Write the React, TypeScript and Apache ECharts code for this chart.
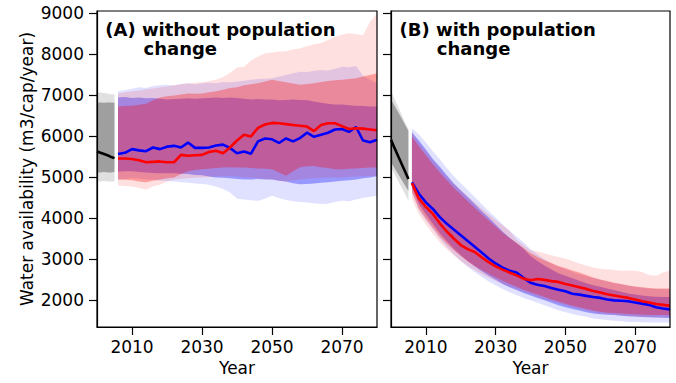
import { useEffect, useRef } from "react";
import * as echarts from "echarts";

// ---- axes ----
const yTicks = [2000, 3000, 4000, 5000, 6000, 7000, 8000, 9000];
const xTicks = [2010, 2030, 2050, 2070];

// ---- years ----
const histYears = [2000, 2001, 2002, 2003, 2004, 2005];
const futureYears = [
  2006, 2008, 2010, 2012, 2014, 2016, 2018, 2020, 2022, 2024, 2026, 2028, 2030,
  2032, 2034, 2036, 2038, 2040, 2042, 2044, 2046, 2048, 2050, 2052, 2054, 2056,
  2058, 2060, 2062, 2064, 2066, 2068, 2070, 2072, 2074, 2076, 2078, 2080,
];

// ---- (A) without population change ----
const histA = [5630, 5600, 5570, 5540, 5500, 5470];
const histInnerLoA = [5120, 5120, 5130, 5120, 5120, 5130];
const histInnerHiA = [6830, 6830, 6820, 6830, 6830, 6820];
const histOuterLoA = [4900, 4900, 4910, 4900, 4900, 4900];
const histOuterHiA = [7080, 7070, 7060, 7050, 7030, 7020];

const blueA = [
  5570, 5600, 5690, 5660, 5640, 5730, 5690, 5750, 5770, 5730, 5850, 5720, 5720,
  5730, 5780, 5800, 5720, 5590, 5630, 5580, 5880, 5950, 5930, 5840, 5950, 5880,
  5960, 6090, 5990, 6040, 6090, 6170, 6180, 6110, 6230, 5900, 5860, 5920,
];
const redA = [
  5460, 5460, 5450, 5420, 5370, 5380, 5390, 5370, 5370, 5550, 5530, 5540, 5550,
  5620, 5650, 5590, 5730, 5900, 6040, 6000, 6210, 6290, 6330, 6320, 6300, 6280,
  6260, 6240, 6130, 6280, 6320, 6320, 6250, 6180, 6200, 6190, 6170, 6150,
];
const blueOuterHiA = [
  7100, 7130, 7160, 7200, 7180, 7230, 7250, 7260, 7240, 7280, 7290, 7270, 7300,
  7310, 7300, 7330, 7320, 7340, 7360, 7380, 7400, 7410, 7420, 7460, 7500, 7540,
  7580, 7570, 7600, 7620, 7610, 7650, 7700, 7690, 7720, 7480, 7380, 7300,
];
const blueInnerHiA = [
  6950, 6960, 6940, 6950, 6930, 6940, 6920, 6900, 6910, 6920, 6930, 6920, 6930,
  6940, 6950, 6940, 6950, 6940, 6920, 6900, 6910, 6900, 6900, 6880, 6890, 6900,
  6890, 6880, 6850, 6820, 6800, 6780, 6780, 6760, 6750, 6740, 6730, 6730,
];
const blueInnerLoA = [
  5140, 5150, 5150, 5130, 5120, 5110, 5100, 5100, 5100, 5090, 5080, 5060, 5050,
  5020, 5000, 4990, 4980, 4960, 4950, 4950, 4960, 4950, 4950, 4920, 4900, 4860,
  4830, 4840, 4850, 4870, 4880, 4900, 4920, 4930, 4950, 4980, 5000, 5030,
];
const blueOuterLoA = [
  4950, 4960, 4980, 4970, 4950, 4940, 4920, 4910, 4900, 4880, 4870, 4850, 4840,
  4820, 4780, 4720, 4630, 4480, 4460, 4440, 4430, 4480, 4550, 4500, 4450, 4420,
  4400, 4390, 4370, 4350, 4360, 4400, 4430, 4420, 4460, 4500, 4530, 4550,
];
const redOuterHiA = [
  7050, 7080, 7100, 7120, 7150, 7170, 7200, 7220, 7250, 7270, 7300, 7310, 7320,
  7350, 7380, 7450, 7550, 7680, 7700, 7850, 7950, 8030, 8050, 8070, 8080, 8120,
  8150, 8200, 8250, 8280, 8350, 8430, 8480, 8520, 8500, 8470, 8800, 9000,
];
const redInnerHiA = [
  6730, 6740, 6750, 6770, 6800, 6880, 6950, 6980, 7000, 7020, 7050, 7040, 7050,
  7080, 7100, 7140, 7180, 7200, 7250, 7270, 7300, 7340, 7380, 7350, 7320, 7290,
  7260, 7280, 7300, 7330, 7350, 7370, 7380, 7400, 7420, 7460, 7500, 7540,
];
const redInnerLoA = [
  4950, 4940, 4930, 4900, 4880, 4920, 4950, 4980, 5000, 5080, 5150, 5180, 5200,
  5210, 5230, 5240, 5250, 5240, 5240, 5230, 5220, 5210, 5200, 5120, 5040, 5150,
  5250, 5270, 5280, 5250, 5230, 5200, 5200, 5210, 5220, 5230, 5240, 5240,
];
const redOuterLoA = [
  4800, 4790, 4780, 4740, 4700, 4780, 4820, 4900, 4950, 4970, 4980, 4990, 5000,
  5010, 5020, 5030, 5030, 5020, 5000, 4990, 4980, 4960, 4950, 4920, 4900, 4930,
  4950, 4970, 4980, 4990, 5000, 5000, 5000, 5010, 5020, 5030, 5030, 5050,
];

// ---- (B) with population change ----
const histB = [5920, 5720, 5530, 5340, 5150, 4960];
const histInnerLoB = [5370, 5230, 5090, 4950, 4810, 4670];
const histInnerHiB = [6900, 6750, 6600, 6450, 6290, 6130];
const histOuterLoB = [5240, 5080, 4920, 4760, 4600, 4430];
const histOuterHiB = [7100, 6920, 6730, 6540, 6350, 6170];

const blueB = [
  4880, 4600, 4390, 4230, 4030, 3870, 3730, 3590, 3450, 3310, 3170, 3020, 2900,
  2800, 2720, 2680, 2550, 2430, 2380, 2350, 2300, 2260, 2220, 2160, 2140, 2110,
  2080, 2060, 2020, 2000, 1990, 1980, 1950, 1920, 1890, 1830, 1800, 1780,
];
const redB = [
  4860, 4480, 4280, 4110, 3880, 3680, 3510, 3350, 3250, 3180, 3050, 2930, 2830,
  2750, 2680, 2610, 2530, 2490, 2520, 2500, 2470, 2450, 2400, 2360, 2320, 2280,
  2230, 2190, 2150, 2120, 2090, 2060, 2020, 1980, 1950, 1910, 1890, 1870,
];
const blueOuterHiB = [
  6200, 6050, 5850, 5640, 5440, 5230, 5030, 4860, 4690, 4520, 4350, 4180, 4020,
  3850, 3700, 3560, 3420, 3250, 3120, 3000, 2900, 2820, 2760, 2700, 2640, 2590,
  2540, 2500, 2460, 2420, 2390, 2360, 2330, 2310, 2290, 2280, 2270, 2270,
];
const blueInnerHiB = [
  6100, 5900, 5680, 5450, 5260, 5050, 4850, 4680, 4520, 4350, 4180, 4020, 3850,
  3680, 3530, 3400, 3260, 3080, 2960, 2850, 2750, 2660, 2600, 2540, 2480, 2420,
  2370, 2330, 2290, 2250, 2210, 2170, 2140, 2120, 2100, 2090, 2080, 2080,
];
const blueInnerLoB = [
  4750, 4350, 4100, 3870, 3640, 3440, 3260, 3100, 2960, 2830, 2710, 2600, 2500,
  2400, 2320, 2250, 2180, 2120, 2060, 2000, 1940, 1880, 1830, 1790, 1750, 1710,
  1680, 1660, 1650, 1640, 1625, 1615, 1605, 1595, 1585, 1580, 1575, 1570,
];
const blueOuterLoB = [
  4600, 4200, 3950, 3720, 3500, 3300, 3120, 2960, 2820, 2690, 2570, 2460, 2370,
  2280, 2200, 2130, 2060, 2000, 1940, 1880, 1820, 1760, 1710, 1670, 1630, 1600,
  1560, 1540, 1520, 1500, 1490, 1475, 1470, 1465, 1460, 1460, 1460, 1460,
];
const redOuterHiB = [
  6100, 5850, 5640, 5420, 5220, 5030, 4860, 4700, 4540, 4390, 4240, 4100, 3960,
  3830, 3700, 3480, 3350, 3230, 3190, 3150, 3100, 3060, 3020, 2960, 2900, 2850,
  2800, 2770, 2760, 2740, 2720, 2730, 2720, 2690, 2620, 2600, 2680, 2730,
];
const redInnerHiB = [
  6000, 5760, 5540, 5320, 5120, 4930, 4750, 4580, 4420, 4260, 4100, 3950, 3800,
  3650, 3520, 3400, 3280, 3150, 3060, 2980, 2910, 2840, 2790, 2730, 2680, 2620,
  2560, 2510, 2470, 2430, 2400, 2360, 2340, 2320, 2300, 2290, 2290, 2290,
];
const redInnerLoB = [
  4650, 4250, 4000, 3780, 3560, 3380, 3220, 3080, 2950, 2840, 2740, 2650, 2560,
  2480, 2400, 2330, 2260, 2200, 2140, 2080, 2020, 1970, 1920, 1870, 1830, 1790,
  1750, 1720, 1700, 1690, 1680, 1670, 1660, 1650, 1645, 1640, 1640, 1640,
];
const redOuterLoB = [
  4470, 4100, 3850, 3620, 3420, 3250, 3100, 2960, 2840, 2740, 2640, 2550, 2470,
  2400, 2330, 2270, 2210, 2150, 2090, 2030, 1980, 1930, 1880, 1830, 1790, 1750,
  1710, 1680, 1660, 1640, 1630, 1610, 1600, 1590, 1590, 1580, 1580, 1580,
];

const titleA = ["(A) without population", "change"];
const titleB = ["(B) with population", "change"];

const FONT = "DejaVu Sans";

type Band = [number[], number[], number];
type Panel = {
  hist: number[];
  histBands: Band[];
  blue: number[];
  red: number[];
  blueBands: Band[];
  redBands: Band[];
};

const panels: Panel[] = [
  {
    hist: histA,
    histBands: [
      [histOuterLoA, histOuterHiA, 0.12],
      [histInnerLoA, histInnerHiA, 0.29],
    ],
    blue: blueA,
    red: redA,
    blueBands: [
      [blueOuterLoA, blueOuterHiA, 0.12],
      [blueInnerLoA, blueInnerHiA, 0.32],
    ],
    redBands: [
      [redOuterLoA, redOuterHiA, 0.12],
      [redInnerLoA, redInnerHiA, 0.3],
    ],
  },
  {
    hist: histB,
    histBands: [
      [histOuterLoB, histOuterHiB, 0.12],
      [histInnerLoB, histInnerHiB, 0.29],
    ],
    blue: blueB,
    red: redB,
    blueBands: [
      [blueOuterLoB, blueOuterHiB, 0.12],
      [blueInnerLoB, blueInnerHiB, 0.32],
    ],
    redBands: [
      [redOuterLoB, redOuterHiB, 0.12],
      [redInnerLoB, redInnerHiB, 0.3],
    ],
  },
];

// A shaded band between two bounds, drawn as one polygon in data coordinates.
function bandSeries(
  axis: number,
  years: number[],
  lo: number[],
  hi: number[],
  color: string,
  opacity: number
) {
  return {
    type: "custom" as const,
    xAxisIndex: axis,
    yAxisIndex: axis,
    silent: true,
    data: years.map((x, i) => [x, lo[i], hi[i]]),
    encode: { x: 0, y: [1, 2] },
    renderItem: (params: any, api: any) => {
      if (params.dataIndex !== 0) return null;
      const upper = years.map((x, i) => api.coord([x, hi[i]]));
      const lower = years.map((x, i) => api.coord([x, lo[i]])).reverse();
      return {
        type: "polygon",
        shape: { points: upper.concat(lower) },
        style: { fill: color, opacity },
      };
    },
  };
}

function lineSeries(axis: number, years: number[], values: number[], color: string) {
  return {
    type: "line" as const,
    xAxisIndex: axis,
    yAxisIndex: axis,
    symbol: "none",
    silent: true,
    data: years.map((x, i) => [x, values[i]]),
    lineStyle: { color, width: 2.6 },
  };
}

function buildOption() {
  const series: any[] = [];
  panels.forEach((p, k) => {
    p.histBands.forEach(([lo, hi, a]) =>
      series.push(bandSeries(k, histYears, lo, hi, "#000000", a))
    );
    series.push(lineSeries(k, histYears, p.hist, "#000000"));
    p.blueBands.forEach(([lo, hi, a]) =>
      series.push(bandSeries(k, futureYears, lo, hi, "#0000ff", a))
    );
    p.redBands.forEach(([lo, hi, a]) =>
      series.push(bandSeries(k, futureYears, lo, hi, "#ff0000", a))
    );
    series.push(lineSeries(k, futureYears, p.blue, "#0000ff"));
    series.push(lineSeries(k, futureYears, p.red, "#ff0000"));
  });

  const gridLefts = [97, 391];
  const axisLine = { show: true, lineStyle: { color: "#000", width: 1.2 } };
  const tickStyle = { color: "#000", width: 1.2 };
  const labelStyle = { color: "#000", fontFamily: FONT, fontSize: 17 };

  const titles = [titleA, titleB];
  const titleX = [
    [105.3, 143.5],
    [399.6, 436.8],
  ];
  const graphic: any[] = [];
  titles.forEach((t, k) => {
    t.forEach((line, j) => {
      graphic.push({
        type: "text",
        x: titleX[k][j],
        y: j === 0 ? 29.5 : 48.5,
        silent: true,
        z: 100,
        style: {
          text: line,
          fill: "#000",
          fontFamily: FONT,
          fontWeight: "bold",
          fontSize: 18,
          verticalAlign: "middle",
          align: "left",
        },
      });
    });
  });

  return {
    animation: false,
    backgroundColor: "#ffffff",
    grid: gridLefts.map((left, k) => ({
      left,
      top: 11,
      width: k === 0 ? 280 : 279,
      height: 316,
      show: true,
      borderColor: "#000",
      borderWidth: 1.2,
      backgroundColor: "transparent",
      z: 5,
    })),
    xAxis: gridLefts.map((_, k) => ({
      type: "value",
      gridIndex: k,
      min: 2000,
      max: 2080,
      name: "Year",
      nameLocation: "middle",
      nameGap: 31,
      nameTextStyle: { ...labelStyle },
      axisLine,
      splitLine: { show: false },
      axisTick: { show: true, length: 8, lineStyle: tickStyle, customValues: xTicks },
      axisLabel: {
        ...labelStyle,
        margin: 11,
        customValues: xTicks,
        formatter: (v: number) => String(v),
      },
    })),
    yAxis: gridLefts.map((_, k) => ({
      type: "value",
      gridIndex: k,
      min: 1350,
      max: 9060,
      name: k === 0 ? "Water availability (m3/cap/year)" : "",
      nameLocation: "middle",
      nameGap: 62,
      nameTextStyle: { ...labelStyle },
      axisLine,
      splitLine: { show: false },
      axisTick: { show: true, length: 8, lineStyle: tickStyle, customValues: yTicks },
      axisLabel: {
        ...labelStyle,
        show: k === 0,
        margin: 13,
        customValues: yTicks,
        formatter: (v: number) => String(v),
      },
    })),
    series,
    graphic,
  };
}

export default function App() {
  const ref = useRef<HTMLDivElement>(null);
  useEffect(() => {
    if (!ref.current) return;
    const chart = echarts.init(ref.current, null, { renderer: "svg" });
    chart.setOption(buildOption() as any);
    return () => chart.dispose();
  }, []);
  return (
    <div
      ref={ref}
      style={{ position: "fixed", left: 0, top: 0, width: 676, height: 383, background: "#fff" }}
    />
  );
}
